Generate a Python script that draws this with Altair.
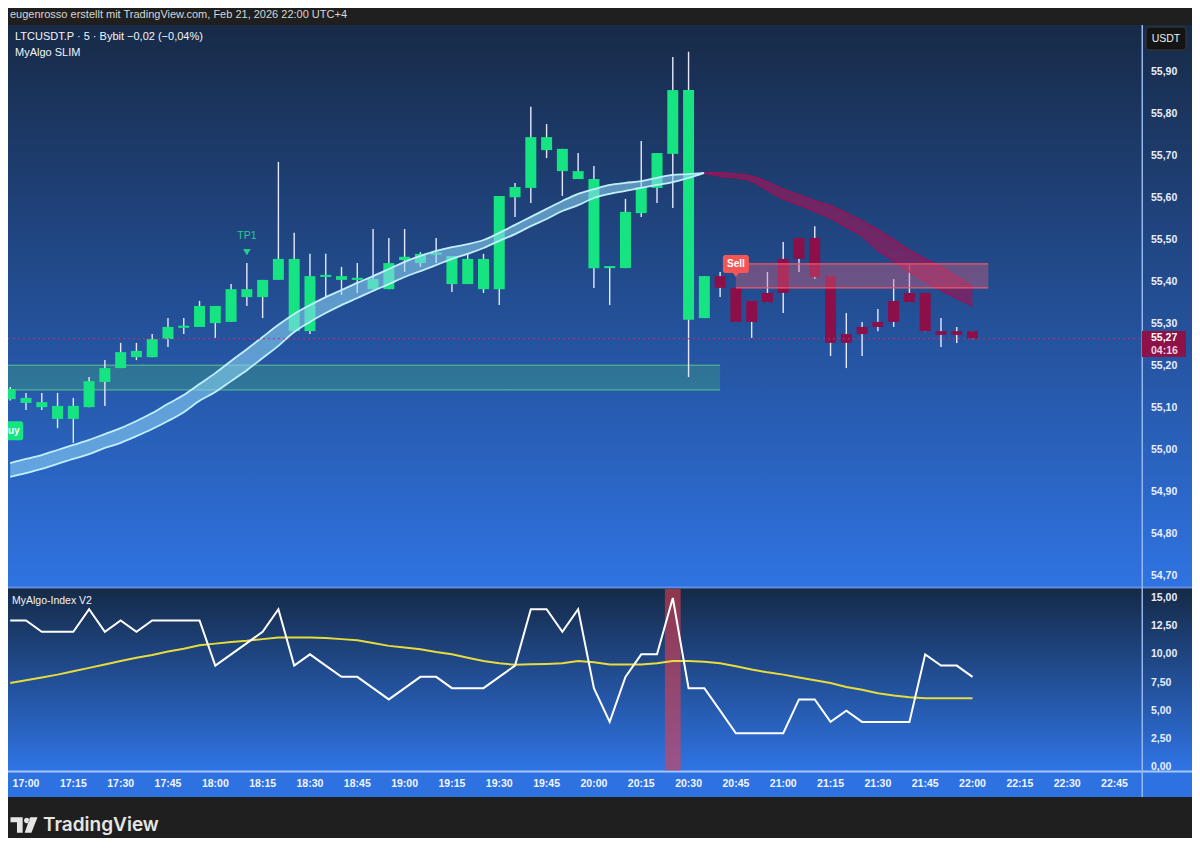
import altair as alt
import pandas as pd

# ---------------- data ----------------
TIMES = ["16:55", "17:00", "17:05", "17:10", "17:15", "17:20", "17:25", "17:30", "17:35", "17:40", "17:45", "17:50", "17:55",
         "18:00", "18:05", "18:10", "18:15", "18:20", "18:25", "18:30", "18:35", "18:40", "18:45", "18:50", "18:55",
         "19:00", "19:05", "19:10", "19:15", "19:20", "19:25", "19:30", "19:35", "19:40", "19:45", "19:50", "19:55",
         "20:00", "20:05", "20:10", "20:15", "20:20", "20:25", "20:30", "20:35", "20:40", "20:45", "20:50", "20:55",
         "21:00", "21:05", "21:10", "21:15", "21:20", "21:25", "21:30", "21:35", "21:40", "21:45", "21:50", "21:55", "22:00"]

OPEN = [55.121, 55.112, 55.102, 55.074, 55.074, 55.102, 55.162, 55.195, 55.221, 55.221, 55.264, 55.291, 55.293,
        55.302, 55.305, 55.364, 55.364, 55.405, 55.283, 55.283, 55.412, 55.405, 55.405, 55.383, 55.383,
        55.452, 55.445, 55.465, 55.395, 55.395, 55.383, 55.383, 55.602, 55.624, 55.714, 55.664, 55.645,
        55.433, 55.433, 55.433, 55.564, 55.624, 55.705, 55.310, 55.314, 55.414, 55.386, 55.355, 55.374,
        55.455, 55.505, 55.505, 55.414, 55.276, 55.293, 55.305, 55.355, 55.374, 55.374, 55.283, 55.283, 55.283]
HIGH = [55.150, 55.136, 55.136, 55.136, 55.124, 55.174, 55.214, 55.255, 55.255, 55.276, 55.314, 55.314, 55.355,
        55.343, 55.395, 55.445, 55.405, 55.686, 55.517, 55.467, 55.467, 55.436, 55.445, 55.526, 55.505,
        55.526, 55.471, 55.505, 55.462, 55.467, 55.467, 55.605, 55.636, 55.817, 55.776, 55.717, 55.707,
        55.676, 55.438, 55.598, 55.736, 55.707, 55.936, 55.948, 55.414, 55.424, 55.386, 55.355, 55.424,
        55.495, 55.505, 55.533, 55.414, 55.326, 55.305, 55.336, 55.407, 55.445, 55.374, 55.314, 55.293, 55.283]
LOW = [55.118, 55.095, 55.095, 55.052, 55.017, 55.102, 55.105, 55.195, 55.214, 55.221, 55.245, 55.276, 55.293,
       55.267, 55.305, 55.343, 55.314, 55.405, 55.279, 55.276, 55.364, 55.369, 55.374, 55.383, 55.383,
       55.424, 55.436, 55.445, 55.376, 55.395, 55.374, 55.345, 55.555, 55.588, 55.695, 55.605, 55.645,
       55.386, 55.345, 55.433, 55.555, 55.588, 55.576, 55.174, 55.314, 55.364, 55.305, 55.267, 55.352,
       55.326, 55.424, 55.407, 55.224, 55.195, 55.224, 55.283, 55.293, 55.352, 55.283, 55.245, 55.255, 55.264]
CLOSE = [55.145, 55.124, 55.114, 55.105, 55.105, 55.164, 55.195, 55.233, 55.236, 55.264, 55.293, 55.296, 55.343,
         55.343, 55.383, 55.383, 55.405, 55.455, 55.455, 55.414, 55.417, 55.414, 55.410, 55.407, 55.445,
         55.460, 55.467, 55.470, 55.462, 55.455, 55.455, 55.605, 55.626, 55.745, 55.745, 55.717, 55.664,
         55.645, 55.438, 55.567, 55.626, 55.707, 55.857, 55.857, 55.414, 55.386, 55.305, 55.305, 55.352,
         55.374, 55.455, 55.412, 55.255, 55.255, 55.276, 55.293, 55.305, 55.352, 55.283, 55.274, 55.274, 55.265]
TREND = ["G"] * 45 + ["R"] * 17

# MyAlgo SLIM trend ribbon (bullish part 16:55-20:35, bearish part 20:35-22:00)
BULL_TOP = [54.969, 54.979, 54.988, 55.000, 55.012, 55.024, 55.038, 55.052, 55.069, 55.088, 55.110, 55.131, 55.157,
            55.183, 55.212, 55.240, 55.269, 55.298, 55.324, 55.345, 55.364, 55.381, 55.398, 55.414, 55.431,
            55.448, 55.462, 55.474, 55.483, 55.490, 55.500, 55.517, 55.536, 55.555, 55.574, 55.593, 55.610,
            55.621, 55.631, 55.636, 55.640, 55.648, 55.655, 55.657, 55.660]
BULL_BOT = [54.936, 54.945, 54.955, 54.967, 54.979, 54.990, 55.005, 55.017, 55.033, 55.050, 55.069, 55.090, 55.117,
            55.138, 55.164, 55.190, 55.219, 55.248, 55.281, 55.305, 55.326, 55.345, 55.362, 55.379, 55.395,
            55.412, 55.426, 55.440, 55.455, 55.467, 55.481, 55.498, 55.514, 55.533, 55.550, 55.569, 55.583,
            55.600, 55.610, 55.617, 55.624, 55.631, 55.638, 55.648, 55.660]
BEAR_TOP = [55.660, 55.660, 55.657, 55.652, 55.638, 55.621, 55.607, 55.593, 55.581, 55.564, 55.545, 55.524,
            55.500, 55.476, 55.455, 55.436, 55.412, 55.388]
BEAR_BOT = [55.660, 55.652, 55.648, 55.640, 55.619, 55.598, 55.583, 55.569, 55.552, 55.531, 55.510, 55.476,
            55.450, 55.424, 55.402, 55.381, 55.362, 55.343]

# zones: (start time, end time, low price, high price)
GREEN_ZONE = ("16:40", "20:40", 55.143, 55.202)
RED_ZONE = ("20:45", "22:05", 55.386, 55.443)

# signals
SIGNAL_TEXT = ["Buy", "Sell"]
SIGNAL_TIME = ["16:55", "20:45"]
SIGNAL_PRICE = [55.046, 55.443]
TP_TIME, TP_TEXT_PRICE, TP_MARK_PRICE = "18:10", 55.509, 55.471

CURRENT_PRICE = 55.265
CURRENT_LABEL = "55,27"
COUNTDOWN = "04:16"

# MyAlgo-Index V2
INDEX_WHITE = [13, 13, 12, 12, 12, 14, 12, 13, 12, 13, 13, 13, 13, 9, 10, 11, 12, 14, 9, 10, 9, 8, 8, 7, 6,
               7, 8, 8, 7, 7, 7, 8, 9, 14, 14, 12, 14, 7, 4, 8, 10, 10, 15, 7, 7, 5, 3, 3, 3, 3, 6, 6, 4, 5,
               4, 4, 4, 4, 10, 9, 9, 8]
INDEX_YELLOW = [7.45, 7.7, 7.95, 8.2, 8.5, 8.8, 9.1, 9.4, 9.7, 9.95, 10.25, 10.5, 10.8, 10.95, 11.1, 11.2, 11.35,
                11.5, 11.5, 11.5, 11.45, 11.35, 11.25, 11.0, 10.75, 10.6, 10.45, 10.2, 10.0, 9.7, 9.4, 9.2,
                9.07, 9.12, 9.15, 9.2, 9.4, 9.3, 9.1, 9.1, 9.1, 9.2, 9.4, 9.4, 9.35, 9.2, 8.95, 8.65, 8.4,
                8.2, 7.95, 7.7, 7.45, 7.1, 6.85, 6.55, 6.35, 6.2, 6.1, 6.1, 6.1, 6.1]
INDEX_SIGNAL_TIME = "20:25"

PRICE_TICKS = [55.90, 55.80, 55.70, 55.60, 55.50, 55.40, 55.30, 55.20, 55.10, 55.00, 54.90, 54.80, 54.70]
INDEX_TICKS = [15.0, 12.5, 10.0, 7.5, 5.0, 2.5, 0.0]
TIME_TICKS = ["17:00", "17:15", "17:30", "17:45", "18:00", "18:15", "18:30", "18:45", "19:00", "19:15",
              "19:30", "19:45", "20:00", "20:15", "20:30", "20:45", "21:00", "21:15", "21:30", "21:45",
              "22:00", "22:15", "22:30", "22:45"]

HEADER = "eugenrosso erstellt mit TradingView.com, Feb 21, 2026 22:00 UTC+4"
TITLE = "LTCUSDT.P · 5 · Bybit  −0,02 (−0,04%)"
SUBTITLE = "MyAlgo SLIM"
INDEX_TITLE = "MyAlgo-Index V2"

# ---------------- helpers ----------------
FONT = "Liberation Sans"
W, H = 1184, 830
GREEN = "#16e381"
MAROON = "#8c0f49"


def to_min(t):
    h, m = t.split(":")
    return (int(h) - 17) * 60 + int(m)


def comma(v):
    return f"{v:.2f}".replace(".", ",")


X = alt.Scale(domain=[0, 345], range=[13, 1111.5], nice=False, zero=False)
PY = alt.Scale(domain=[54.70, 56.00], range=[568, 22], nice=False, zero=False)
IY = alt.Scale(domain=[0, 15], range=[759, 590], nice=False, zero=False)


def xq(f):
    return alt.X(f"{f}:Q", scale=X, axis=None)


def pq(f):
    return alt.Y(f"{f}:Q", scale=PY, axis=None)


def iq(f):
    return alt.Y(f"{f}:Q", scale=IY, axis=None)


one = pd.DataFrame({"k": [0]})


def vgrad(top, bottom):
    return alt.Gradient(gradient="linear",
                        stops=[alt.GradientStop(color=top, offset=0), alt.GradientStop(color=bottom, offset=1)],
                        x1=0, x2=0, y1=0, y2=1)


def box(x1, x2, y1, y2, **mk):
    return alt.Chart(one).mark_rect(**mk).encode(
        x=alt.value(x1), x2=alt.value(x2), y=alt.value(y1), y2=alt.value(y2))


def label(txt, x, y, **mk):
    base = dict(font=FONT, baseline="middle", align="left")
    base.update(mk)
    return alt.Chart(one).mark_text(text=txt, **base).encode(x=alt.value(x), y=alt.value(y))


# ---------------- frames ----------------
candles = pd.DataFrame({"t": TIMES, "o": OPEN, "h": HIGH, "l": LOW, "c": CLOSE, "trend": TREND,
                        "w": INDEX_WHITE, "y": INDEX_YELLOW})
candles["m"] = candles["t"].map(to_min)

bull = pd.DataFrame({"t": TIMES[:45], "top": BULL_TOP, "bot": BULL_BOT})
bull["m"] = bull["t"].map(to_min)
bear = pd.DataFrame({"t": TIMES[44:], "top": BEAR_TOP, "bot": BEAR_BOT})
bear["m"] = bear["t"].map(to_min)


def zone_frames(z):
    r = pd.DataFrame({"a": [to_min(z[0])], "b": [to_min(z[1])], "lo": [z[2]], "hi": [z[3]]})
    e = pd.DataFrame({"a": [to_min(z[0])] * 2, "b": [to_min(z[1])] * 2, "p": [z[2], z[3]]})
    return r, e


gz, gze = zone_frames(GREEN_ZONE)
rz, rze = zone_frames(RED_ZONE)

sig = pd.DataFrame({"txt": SIGNAL_TEXT, "t": SIGNAL_TIME, "p": SIGNAL_PRICE})
sig["m"] = sig["t"].map(to_min)

layers = []

# panel backgrounds
layers += [
    box(0, W, 17, 579, color=vgrad("#172a47", "#2f73e2")),
    box(0, W, 581, 763, color=vgrad("#152a47", "#2f74e5")),
    box(0, W, 763, 789, color="#2e72e2"),
    box(0, W, 578.5, 580.5, color="#5e90e6"),
    box(0, W, 762.5, 764.5, color="#a6c6f7"),
    box(1133.5, 1135, 17, 789, color="#94b6ee"),
]

# green demand zone (behind candles)
layers.append(alt.Chart(gz).mark_rect(color="#3c9a84", opacity=0.45).encode(
    x=xq("a"), x2="b:Q", y=pq("lo"), y2="hi:Q"))
layers.append(alt.Chart(gze).mark_rule(color="#5cc48c", strokeWidth=1).encode(
    x=xq("a"), x2="b:Q", y=pq("p")))

# candles
layers.append(alt.Chart(candles).mark_rule(color="#e4e9ff", strokeWidth=1.4).encode(
    x=xq("m"), y=pq("l"), y2="h:Q"))
layers.append(alt.Chart(candles).mark_bar(size=11).encode(
    x=xq("m"), y=pq("o"), y2="c:Q",
    color=alt.condition("datum.trend == 'G'", alt.value(GREEN), alt.value(MAROON))))

# ribbons
layers.append(alt.Chart(bull).mark_area(color="#8fd9fa", opacity=0.55, interpolate="monotone").encode(
    x=xq("m"), y=pq("top"), y2="bot:Q"))
for f in ["top", "bot"]:
    layers.append(alt.Chart(bull).mark_line(color="#c2f0ff", strokeWidth=1.8, interpolate="monotone").encode(
        x=xq("m"), y=pq(f)))
layers.append(alt.Chart(bear).mark_area(color="#8a1d5e", opacity=0.75, interpolate="monotone").encode(
    x=xq("m"), y=pq("top"), y2="bot:Q"))
for f in ["top", "bot"]:
    layers.append(alt.Chart(bear).mark_line(color="#9b1257", strokeWidth=1.5, interpolate="monotone").encode(
        x=xq("m"), y=pq(f)))

# red supply zone (over candles)
layers.append(alt.Chart(rz).mark_rect(color="#e2607c", opacity=0.38).encode(
    x=xq("a"), x2="b:Q", y=pq("lo"), y2="hi:Q"))
layers.append(alt.Chart(rze).mark_rule(color="#f2566a", strokeWidth=1.2).encode(
    x=xq("a"), x2="b:Q", y=pq("p")))

# current price line
layers.append(alt.Chart(pd.DataFrame({"p": [CURRENT_PRICE]})).mark_rule(
    color="#b8327c", strokeDash=[2, 3], strokeWidth=1).encode(
    x=alt.value(0), x2=alt.value(1134), y=pq("p")))

# signal labels
SELL_PATH = ("M-0.8,-0.69 L0.8,-0.69 Q1,-0.69 1,-0.49 L1,0.49 Q1,0.69 0.8,0.69 L0.23,0.69 L0,1 "
             "L-0.23,0.69 L-0.8,0.69 Q-1,0.69 -1,0.49 L-1,-0.49 Q-1,-0.69 -0.8,-0.69 Z")
BUY_PATH = ("M-0.8,-0.73 L0.8,-0.73 Q1,-0.73 1,-0.53 L1,0.53 Q1,0.73 0.8,0.73 L-0.8,0.73 "
            "Q-1,0.73 -1,0.53 L-1,-0.53 Q-1,-0.73 -0.8,-0.73 Z")
buy = sig[sig.txt == "Buy"]
sell = sig[sig.txt == "Sell"]
layers.append(alt.Chart(buy).mark_point(shape=BUY_PATH, size=676, filled=True, opacity=1, color=GREEN).encode(
    x=xq("m"), y=pq("p")))
layers.append(alt.Chart(sell).mark_point(shape=SELL_PATH, size=676, filled=True, opacity=1, color="#f45656").encode(
    x=xq("m"), y=pq("p")))
layers.append(alt.Chart(sig).mark_text(font=FONT, fontSize=10, fontWeight="bold", color="white",
                                       baseline="middle").encode(x=xq("m"), y=pq("p"), text="txt:N"))

tp = pd.DataFrame({"m": [to_min(TP_TIME)], "pt": [TP_TEXT_PRICE], "pm": [TP_MARK_PRICE], "txt": ["TP1"]})
layers.append(alt.Chart(tp).mark_text(font=FONT, fontSize=10.5, color="#22cf8c", baseline="middle").encode(
    x=xq("m"), y=pq("pt"), text="txt:N"))
layers.append(alt.Chart(tp).mark_point(shape="triangle-down", size=55, filled=True, opacity=1,
                                       color="#22cf8c").encode(x=xq("m"), y=pq("pm")))

# indicator panel
ms = to_min(INDEX_SIGNAL_TIME)
layers.append(alt.Chart(pd.DataFrame({"a": [ms - 2.5], "b": [ms + 2.5]})).mark_rect(
    color="#e04050", opacity=0.6).encode(x=xq("a"), x2="b:Q", y=alt.value(581), y2=alt.value(762.5)))
layers.append(alt.Chart(candles).mark_line(color="#e8dc3c", strokeWidth=2).encode(x=xq("m"), y=iq("y")))
layers.append(alt.Chart(candles).mark_line(color="#ffffff", strokeWidth=2).encode(x=xq("m"), y=iq("w")))

# axis labels
pt = pd.DataFrame({"v": PRICE_TICKS, "lab": [comma(v) for v in PRICE_TICKS]})
layers.append(alt.Chart(pt).mark_text(font=FONT, fontSize=10.5, fontWeight="bold", color="#e8eefc",
                                      align="left", baseline="middle").encode(
    x=alt.value(1143), y=pq("v"), text="lab:N"))
it = pd.DataFrame({"v": INDEX_TICKS, "lab": [comma(v) for v in INDEX_TICKS]})
layers.append(alt.Chart(it).mark_text(font=FONT, fontSize=10.5, fontWeight="bold", color="#e8eefc",
                                      align="left", baseline="middle").encode(
    x=alt.value(1143), y=iq("v"), text="lab:N"))
tt = pd.DataFrame({"t": TIME_TICKS})
tt["m"] = tt["t"].map(to_min)
layers.append(alt.Chart(tt).mark_text(font=FONT, fontSize=10.5, fontWeight="bold", color="#f2f6ff",
                                      baseline="middle").encode(x=xq("m"), y=alt.value(776), text="t:N"))

# current price tag on the axis
layers.append(box(1134, 1178, 323, 349, color="#8c1248"))
layers.append(label(CURRENT_LABEL, 1143, 330, fontSize=10.5, fontWeight="bold", color="#ffffff"))
layers.append(label(COUNTDOWN, 1143, 343, fontSize=10.5, fontWeight="bold", color="#f3cfe0"))

# USDT box
layers.append(box(1138, 1178, 19, 42, color="#141414", stroke="#3a3a3a", strokeWidth=1, cornerRadius=3))
layers.append(label("USDT", 1158, 30.5, fontSize=10.5, color="#f0f0f0", align="center"))

# titles
layers.append(label(HEADER, 2, 7, fontSize=11, color="#d6d6d6"))
layers.append(label(TITLE, 7, 29, fontSize=11, color="#f2f4fa"))
layers.append(label(SUBTITLE, 7, 45, fontSize=11, color="#f2f4fa"))
layers.append(label(INDEX_TITLE, 4, 593, fontSize=10.5, color="#f2f4fa"))

# TradingView footer
LOGO = ("M-1,-0.58 L-0.1,-0.58 L-0.1,0.58 L-0.52,0.58 L-0.52,-0.2 L-1,-0.2 Z "
        "M0.0,-0.33 A0.2,0.2 0 1,0 0.4,-0.33 A0.2,0.2 0 1,0 0.0,-0.33 Z "
        "M0.45,-0.58 L1,-0.58 L0.55,0.58 L0.05,0.58 Z")
layers.append(alt.Chart(one).mark_point(shape=LOGO, size=729, filled=True, opacity=1, color="#e6e6e6").encode(
    x=alt.value(16), y=alt.value(817)))
layers.append(label("TradingView", 35, 817, font="Inter", fontSize=19, fontWeight=600, color="#e6e6e6"))

chart = alt.layer(*layers).resolve_scale(y="independent").properties(
    width=W, height=H, padding=0, autosize=alt.AutoSizeParams(type="none"), background="#1f1f1f"
).configure_view(stroke=None)

chart.save("out.html", embed_options={"renderer": "svg", "actions": False})
